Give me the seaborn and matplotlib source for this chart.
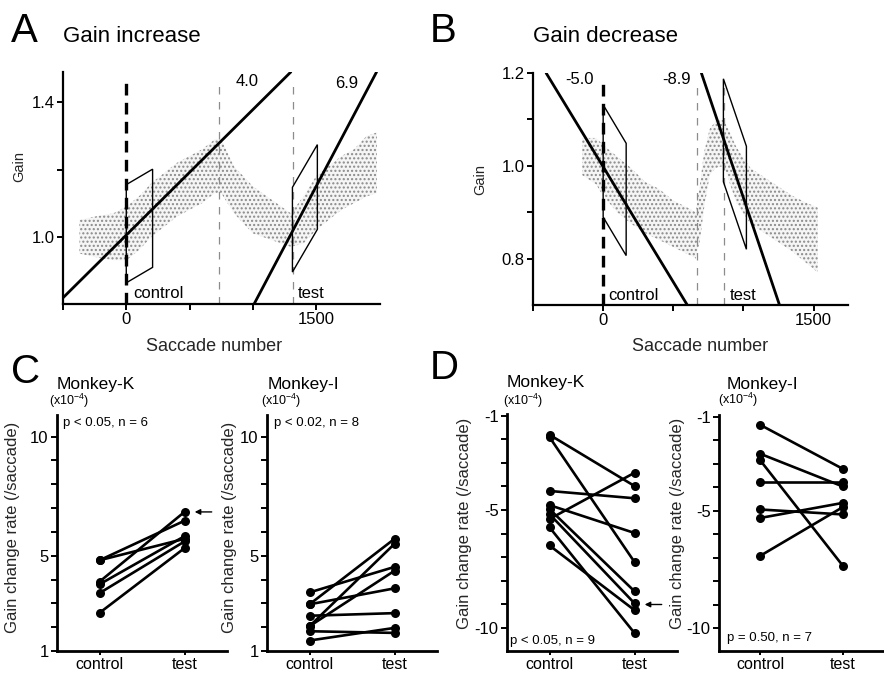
import numpy as np
import pandas as pd
import matplotlib
matplotlib.use("Agg")
import matplotlib.pyplot as plt
import seaborn as sns

# ---------------- data ----------------
# Panel A (gain increase) : saccade cloud (centre / half-width)
A_cloud_x = [-370, -250, -100, 0, 100, 200, 300, 400, 500, 600, 700, 750, 850, 1000,
             1150, 1300, 1400, 1500, 1600, 1700, 1800, 1900, 1980]
A_cloud_mid = [1.00, 1.00, 1.00, 1.01, 1.04, 1.08, 1.11, 1.14, 1.16, 1.18, 1.21, 1.21,
               1.14, 1.08, 1.05, 1.02, 1.05, 1.10, 1.13, 1.16, 1.18, 1.21, 1.22]
A_cloud_half = [0.05, 0.06, 0.07, 0.08, 0.08, 0.08, 0.08, 0.08, 0.08, 0.08, 0.08, 0.08,
                0.07, 0.07, 0.06, 0.05, 0.07, 0.08, 0.08, 0.08, 0.08, 0.09, 0.09]
A_fit_anchor = [(0, 1.005), (1010, 0.80)]
A_fit_slope = [3.73e-4, 7.13e-4]
A_fit_label = ["4.0", "6.9"]
A_win = [  # x0, x1, centre0, centre1, half height
    (0, 208, 1.009, 1.055, 0.146),
    (1313, 1510, 1.021, 1.148, 0.126),
]
A_thin_dash = [735, 1315]

# Panel B (gain decrease)
B_cloud_x = [-150, -50, 0, 100, 200, 300, 400, 500, 600, 660, 690, 720, 760, 800, 860,
             950, 1050, 1150, 1250, 1350, 1450, 1530]
B_cloud_mid = [1.02, 1.01, 0.99, 0.96, 0.935, 0.91, 0.895, 0.875, 0.86, 0.85, 0.90, 0.97,
               1.03, 1.045, 1.05, 0.98, 0.935, 0.915, 0.895, 0.875, 0.855, 0.84]
B_cloud_half = [0.04, 0.05, 0.055, 0.06, 0.06, 0.055, 0.055, 0.05, 0.05, 0.05, 0.06, 0.06,
                0.05, 0.05, 0.05, 0.06, 0.06, 0.06, 0.06, 0.06, 0.065, 0.07]
B_fit_anchor = [(0, 0.998), (700, 1.20)]
B_fit_slope = [-4.97e-4, -8.98e-4]
B_fit_label = ["-5.0", "-8.9"]
B_win = [
    (0, 164, 1.0105, 0.9275, 0.121),
    (857, 1021, 1.0765, 0.931, 0.111),
]
B_thin_dash = [670, 860]

conditions = ["control", "test"]

# Panel C (gain increase rates, x10^-4 /saccade)
CK_control = [4.81, 4.81, 3.91, 3.80, 3.43, 2.60]
CK_test = [6.47, 5.71, 6.84, 5.82, 5.60, 5.32]
CI_control = [3.46, 2.96, 2.96, 2.48, 2.04, 2.04, 1.83, 1.44]
CI_test = [4.53, 5.71, 3.63, 2.59, 5.50, 4.37, 1.76, 1.97]

# Panel D (gain decrease rates)
DK_control = [-1.81, -1.91, -4.19, -4.79, -5.38, -4.96, -5.17, -5.73, -6.50]
DK_test = [-3.98, -7.20, -4.50, -5.97, -3.42, -8.44, -8.95, -10.21, -9.24]
DI_control = [-1.35, -2.58, -2.86, -3.76, -4.95, -5.31, -6.92]
DI_test = [-3.22, -3.97, -7.34, -3.76, -5.16, -4.67, -4.85]

# ---------------- style ----------------
sns.set_theme(style="ticks")
plt.rcParams["font.family"] = ["Liberation Sans", "DejaVu Sans"]
plt.rcParams["mathtext.default"] = "regular"
plt.rcParams["axes.unicode_minus"] = False

W, H = 884, 673
fig = plt.figure(figsize=(W / 100, H / 100), dpi=100)
fig.patch.set_facecolor("white")


def add_ax(l, t, r, b):
    ax = fig.add_axes([l / W, 1 - b / H, (r - l) / W, (b - t) / H])
    ax.set_facecolor("white")
    return ax


def ftext(px, py, s, **kw):
    kw.setdefault("va", "center")
    kw.setdefault("color", "black")
    fig.text(px / W, 1 - py / H, s, **kw)


def style_axes(ax, spine_lw):
    for sp in ["top", "right"]:
        ax.spines[sp].set_visible(False)
    for sp in ["left", "bottom"]:
        ax.spines[sp].set_linewidth(spine_lw)
        ax.spines[sp].set_color("black")
    ax.tick_params(direction="out", length=4, width=1.4, colors="black",
                   labelsize=12, pad=2)


def gain_panel(ax, cx, cmid, chalf, anchors, slopes, wins, thin, xlim, ylim):
    cx = np.array(cx); cmid = np.array(cmid); chalf = np.array(chalf)
    ax.fill_between(cx, cmid - chalf, cmid + chalf, facecolor="#f5f5f5",
                    edgecolor="#8a8a8a", hatch="....", linewidth=0, zorder=1)
    ax.axvline(0, ymax=0.97, color="black", lw=2.4, ls=(0, (3.5, 2.2)), zorder=3)
    for xv in thin:
        ax.axvline(xv, ymax=0.97, color="#8c8c8c", lw=0.9, ls=(0, (6, 6)), zorder=2)
    for (xa, ya), s in zip(anchors, slopes):
        ax.axline((xa, ya), slope=s, color="black", lw=2.0, zorder=4)
    for x0, x1, c0, c1, h in wins:
        ax.fill([x0, x1, x1, x0], [c0 - h, c1 - h, c1 + h, c0 + h], fill=False,
                ec="black", lw=1.0, zorder=4)
    ax.set_xlim(*xlim)
    ax.set_ylim(*ylim)
    style_axes(ax, 1.6)
    ax.set_xticks([-500, 0, 500, 1000, 1500])
    ax.set_xticklabels(["", "0", "", "", "1500"])
    ax.set_xlabel("Saccade number", fontsize=13)
    ax.set_ylabel("Gain", fontsize=10.5)


# ---------------- Panel A ----------------
axA = add_ax(63, 72, 380, 304)
gain_panel(axA, A_cloud_x, A_cloud_mid, A_cloud_half, A_fit_anchor, A_fit_slope,
           A_win, A_thin_dash, (-500, 2005), (0.80, 1.49))
axA.set_yticks([1.0, 1.2, 1.4])
axA.set_yticklabels(["1.0", "", "1.4"])
axA.xaxis.set_label_coords((214 - 63) / 317, (304 - 338) / 232)
axA.yaxis.set_label_coords((26 - 63) / 317, (304 - 167) / 232)

# ---------------- Panel B ----------------
axB = add_ax(533, 73, 848, 305)
gain_panel(axB, B_cloud_x, B_cloud_mid, B_cloud_half, B_fit_anchor, B_fit_slope,
           B_win, B_thin_dash, (-500, 1745), (0.70, 1.20))
axB.set_yticks([0.8, 0.9, 1.0, 1.1, 1.2])
axB.set_yticklabels(["0.8", "", "1.0", "", "1.2"])
axB.xaxis.set_label_coords((700 - 533) / 315, (305 - 338) / 232)
axB.yaxis.set_label_coords((487 - 533) / 315, (305 - 180) / 232)

# labels in A/B
ftext(247, 82, A_fit_label[0], fontsize=12, ha="center")
ftext(347, 83, A_fit_label[1], fontsize=12, ha="center")
ftext(133, 293, "control", fontsize=12, ha="left")
ftext(298, 293, "test", fontsize=12, ha="left")
ftext(580, 80, B_fit_label[0], fontsize=12, ha="center")
ftext(677, 79, B_fit_label[1], fontsize=12, ha="center")
ftext(608, 295, "control", fontsize=12, ha="left")
ftext(730, 295, "test", fontsize=12, ha="left")

ftext(11, 31, "A", fontsize=29, ha="left")
ftext(63, 36, "Gain increase", fontsize=16, ha="left")
ftext(430, 31, "B", fontsize=29, ha="left")
ftext(533, 36, "Gain decrease", fontsize=16, ha="left")


# ---------------- Panels C / D ----------------
def rate_panel(box, ctrl, test, yticks, ylabels, ylim, ylab_x, ylab_y):
    l, t, r, b = box
    ax = add_ax(l, t, r, b)
    n = len(ctrl)
    df = pd.DataFrame({
        "pair": list(range(n)) * 2,
        "condition": [conditions[0]] * n + [conditions[1]] * n,
        "rate": list(ctrl) + list(test),
    })
    sns.lineplot(data=df, x="condition", y="rate", units="pair", estimator=None,
                 color="black", lw=1.9, marker="o", markersize=6.5,
                 markeredgewidth=0, legend=False, ax=ax, sort=False)
    ax.set_xlim(-0.5, 1.5)
    ax.set_ylim(*ylim)
    style_axes(ax, 2.0)
    ax.set_yticks(yticks)
    ax.set_yticklabels(ylabels)
    ax.set_xlabel("")
    ax.set_ylabel("Gain change rate (/saccade)", fontsize=12)
    ax.yaxis.set_label_coords((ylab_x - l) / (r - l), (b - ylab_y) / (b - t))
    ax.tick_params(axis="x", labelsize=11.5, pad=1, length=3)
    return ax


C_ticks = list(range(1, 11))
C_lab = ["1", "", "", "", "5", "", "", "", "", "10"]
D_ticks = list(range(-10, 0))
D_lab = ["-10", "", "", "", "", "-5", "", "", "", "-1"]

axCK = rate_panel((57, 415, 227, 651), CK_control, CK_test, C_ticks, C_lab,
                  (1, 10.91), 20, 527)
axCI = rate_panel((267, 415, 437, 651), CI_control, CI_test, C_ticks, C_lab,
                  (1, 10.91), 237, 527)
axDK = rate_panel((507, 414, 677, 651), DK_control, DK_test, D_ticks, D_lab,
                  (-10.97, -0.93), 472, 523)
axDI = rate_panel((719, 415, 884, 651), DI_control, DI_test, D_ticks, D_lab,
                  (-10.97, -0.93), 685, 523)

# arrows marking the example experiments
arrow = dict(arrowstyle="-|>", color="black", lw=1.0, mutation_scale=8,
             shrinkA=0, shrinkB=0)
axCK.annotate("", xy=(1.12, 6.84), xytext=(1.32, 6.84), arrowprops=arrow)
axDK.annotate("", xy=(1.12, -9.0), xytext=(1.32, -9.0), arrowprops=arrow)

ftext(11, 372, "C", fontsize=29, ha="left")
ftext(430, 368, "D", fontsize=29, ha="left")

ftext(57, 385, "Monkey-K", fontsize=12.5, ha="left")
ftext(49, 401, "(x10$^{-4}$)", fontsize=9, ha="left")
ftext(63, 423, "p < 0.05, n = 6", fontsize=9.5, ha="left")

ftext(268, 385, "Monkey-I", fontsize=12.5, ha="left")
ftext(261, 401, "(x10$^{-4}$)", fontsize=9, ha="left")
ftext(274, 423, "p < 0.02, n = 8", fontsize=9.5, ha="left")

ftext(507, 383, "Monkey-K", fontsize=12.5, ha="left")
ftext(503, 401, "(x10$^{-4}$)", fontsize=9, ha="left")
ftext(510, 641, "p < 0.05, n = 9", fontsize=9.5, ha="left")

ftext(727, 384, "Monkey-I", fontsize=12.5, ha="left")
ftext(718, 400, "(x10$^{-4}$)", fontsize=9, ha="left")
ftext(727, 638, "p = 0.50, n = 7", fontsize=9.5, ha="left")

fig.savefig("out.png", dpi=100, facecolor="white")
